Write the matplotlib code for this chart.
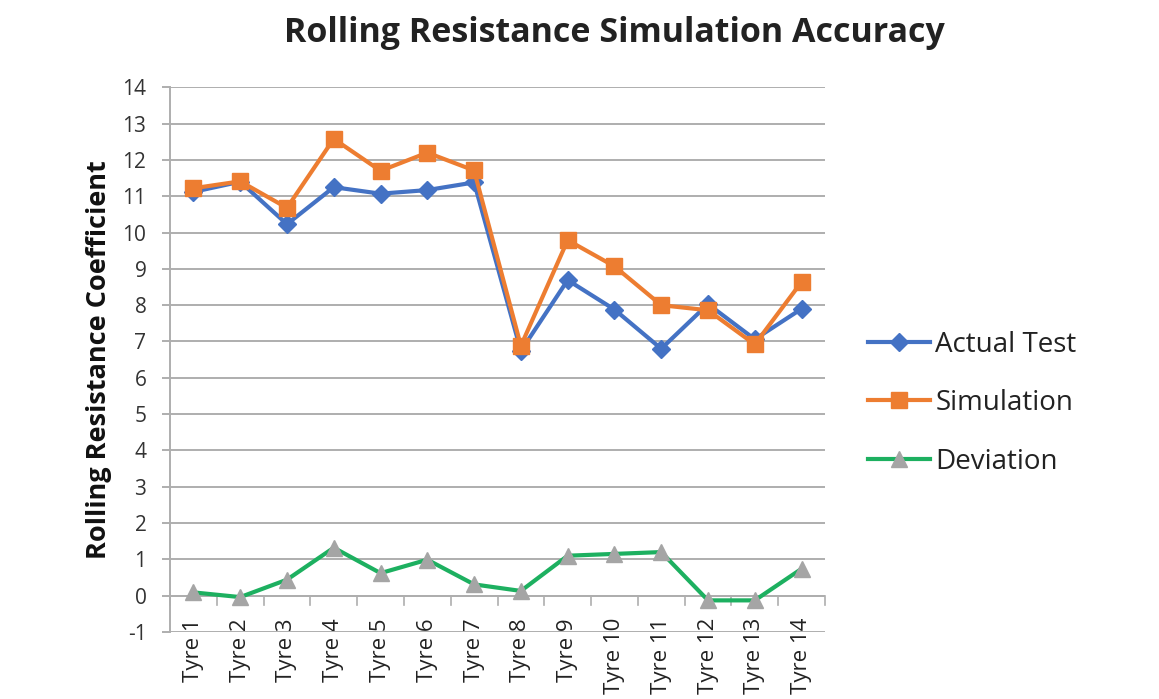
import matplotlib
matplotlib.use("Agg")
import matplotlib.pyplot as plt
import numpy as np

categories = ["Tyre 1", "Tyre 2", "Tyre 3", "Tyre 4", "Tyre 5", "Tyre 6", "Tyre 7",
              "Tyre 8", "Tyre 9", "Tyre 10", "Tyre 11", "Tyre 12", "Tyre 13", "Tyre 14"]
actual_test = [11.12, 11.40, 10.23, 11.25, 11.07, 11.17, 11.38, 6.74, 8.69, 7.88, 6.80, 8.03, 7.06, 7.90]
simulation = [11.22, 11.41, 10.68, 12.58, 11.70, 12.20, 11.71, 6.88, 9.79, 9.07, 8.00, 7.86, 6.92, 8.64]
deviation = [0.09, -0.04, 0.44, 1.32, 0.62, 0.99, 0.31, 0.13, 1.10, 1.15, 1.20, -0.13, -0.13, 0.74]
y_ticks = list(range(-1, 15))

plt.rcParams['font.family'] = ['Open Sans', 'DejaVu Sans']

fig = plt.figure(figsize=(11.59, 6.99), dpi=100)
ax = fig.add_axes([0.1467, 0.0959, 0.5651, 0.7792])

x = np.arange(len(categories))
ax.plot(x, actual_test, color="#4472C4", lw=3, marker="D", ms=9, label="Actual Test", zorder=4)
ax.plot(x, simulation, color="#ED7D31", lw=3, marker="s", ms=11, label="Simulation", zorder=5)
ax.plot(x, deviation, color="#1DB060", lw=3, marker="^", ms=12, mfc="#A5A5A5", mec="#A5A5A5",
        label="Deviation", zorder=5)

ax.set_xlim(-0.5, len(categories) - 0.5)
ax.set_ylim(-1, 14)
ax.set_yticks(y_ticks)
ax.set_yticklabels([str(v) for v in y_ticks], fontsize=15, color="#333333")
ax.yaxis.grid(True, color="#AEAEAE", lw=1.4)
ax.set_axisbelow(True)
for s in ["top", "right", "bottom"]:
    ax.spines[s].set_visible(False)
ax.spines["left"].set_color("#AEAEAE")
ax.spines["left"].set_linewidth(1.4)
ax.tick_params(axis="y", length=6, color="#AEAEAE", width=1.4, pad=11)

# horizontal axis at y=0 with category boundary ticks
ax.axhline(0, color="#AEAEAE", lw=1.4, zorder=1)
for b in np.arange(-0.5, len(categories), 1.0):
    ax.plot([b, b], [0, -0.26], color="#AEAEAE", lw=1.2, clip_on=False, zorder=1)

ax.set_xticks(x)
ax.set_xticklabels(categories, rotation=90, fontsize=16, color="#222222")
ax.tick_params(axis="x", length=0, pad=-10)

ax.set_ylabel("Rolling Resistance Coefficient", fontsize=19.5, fontweight="bold", color="#111111")
ax.yaxis.set_label_coords(-0.088, 0.5)
fig.text(0.5298, 0.953, "Rolling Resistance Simulation Accuracy", ha="center", va="center",
         fontsize=24.5, fontweight="bold", color="#222222")

leg = ax.legend(loc="center left", bbox_to_anchor=(1.0656, 0.420), frameon=False, fontsize=20,
                handlelength=2.23, labelspacing=1.1, handletextpad=0.2,
                borderpad=0, borderaxespad=0)
for t in leg.get_texts():
    t.set_color("#222222")

fig.savefig("out.png", dpi=100)
